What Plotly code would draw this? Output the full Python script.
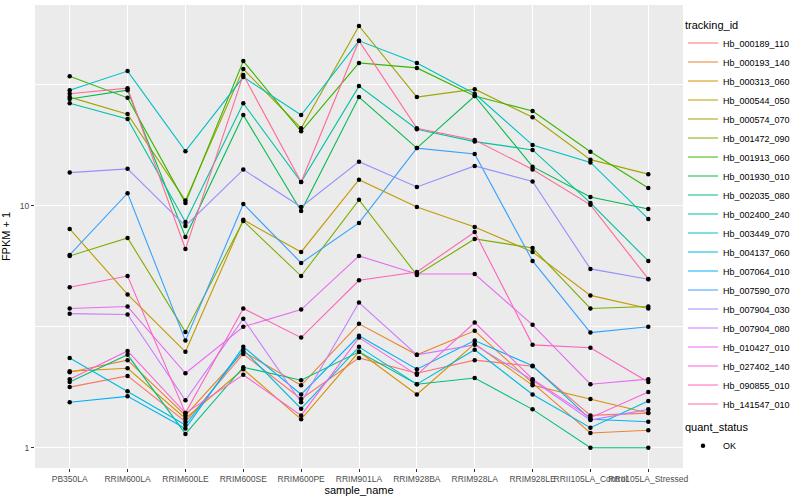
import plotly.graph_objects as go

samples = ["PB350LA", "RRIM600LA", "RRIM600LE", "RRIM600SE", "RRIM600PE", "RRIM901LA",
           "RRIM928BA", "RRIM928LA", "RRIM928LE", "RRII105LA_Control", "RRII105LA_Stressed"]

tracking_ids = ["Hb_000189_110", "Hb_000193_140", "Hb_000313_060", "Hb_000544_050", "Hb_000574_070",
                "Hb_001472_090", "Hb_001913_060", "Hb_001930_010", "Hb_002035_080", "Hb_002400_240",
                "Hb_003449_070", "Hb_004137_060", "Hb_007064_010", "Hb_007590_070", "Hb_007904_030",
                "Hb_007904_080", "Hb_010427_010", "Hb_027402_140", "Hb_090855_010", "Hb_141547_010"]

colors = ["#F8766D", "#EA8331", "#D89000", "#C09B00", "#A3A500", "#7CAE00", "#39B600", "#00BB4E",
          "#00BF7D", "#00C1A3", "#00BFC4", "#00BAE0", "#00B0F6", "#35A2FF", "#9590FF", "#C77CFF",
          "#E76BF3", "#FA62DB", "#FF62BC", "#FF6A98"]

# FPKM + 1 values, one list per tracking_id (order of samples)
hb_000189_110 = [1.78, 1.98, 1.28, 2.44, 1.59, 2.35, 2.03, 2.30, 2.17, 1.36, 1.39]
hb_000193_140 = [2.05, 2.30, 1.36, 2.49, 1.81, 3.25, 2.42, 3.04, 1.85, 1.15, 1.18]
hb_000313_060 = [2.07, 2.13, 1.32, 2.11, 1.31, 2.49, 1.66, 2.69, 1.81, 1.59, 1.39]
hb_000544_050 = [8.02, 4.30, 2.49, 8.74, 6.44, 12.8, 9.88, 8.17, 6.44, 4.26, 3.76]
hb_000574_070 = [28.1, 23.9, 10.5, 36.7, 20.9, 55.3, 28.1, 30.3, 23.2, 15.5, 13.5]
hb_001472_090 = [6.20, 7.36, 3.01, 8.65, 5.12, 10.57, 5.17, 7.29, 6.69, 3.76, 3.83]
hb_001913_060 = [34.3, 27.9, 10.27, 39.6, 20.3, 38.9, 37.1, 28.4, 24.6, 16.7, 11.84]
hb_001930_010 = [27.6, 30.0, 7.43, 23.7, 9.51, 28.1, 17.3, 28.4, 14.5, 10.87, 9.69]
hb_002035_080 = [1.87, 2.42, 1.14, 2.15, 1.90, 2.49, 1.83, 1.94, 1.44, 1.0, 1.0]
hb_002400_240 = [26.5, 22.8, 8.57, 26.5, 12.53, 31.2, 20.7, 18.4, 17.0, 10.27, 5.91]
hb_003449_070 = [30.0, 36.0, 16.8, 34.0, 23.7, 48.0, 38.9, 29.0, 17.8, 15.1, 8.82]
hb_004137_060 = [2.35, 1.71, 1.24, 2.54, 1.45, 2.61, 1.83, 2.54, 1.66, 1.21, 1.56]
hb_007064_010 = [1.54, 1.63, 1.20, 2.61, 1.66, 2.90, 2.11, 2.77, 2.18, 1.31, 1.28]
hb_007590_070 = [6.26, 11.26, 2.77, 10.17, 5.80, 8.49, 17.3, 16.35, 5.91, 2.99, 3.16]
hb_007904_030 = [13.7, 14.2, 8.25, 14.1, 9.88, 15.2, 11.95, 14.6, 12.6, 5.48, 4.97]
hb_007904_080 = [3.58, 3.55, 1.57, 3.41, 1.54, 3.98, 2.42, 2.66, 1.90, 1.30, 1.44]
hb_010427_010 = [3.76, 3.83, 2.03, 3.16, 3.72, 6.20, 5.22, 5.22, 3.22, 1.83, 1.92]
hb_027402_140 = [1.92, 2.51, 1.39, 2.00, 1.36, 2.85, 2.00, 3.29, 1.92, 1.33, 1.70]
hb_090855_010 = [4.60, 5.12, 1.39, 3.76, 2.85, 4.92, 5.32, 7.79, 2.66, 2.59, 1.87]
hb_141547_010 = [29.0, 30.6, 6.62, 34.7, 12.53, 48.0, 20.9, 18.7, 14.1, 10.08, 4.98]

series = [hb_000189_110, hb_000193_140, hb_000313_060, hb_000544_050, hb_000574_070,
          hb_001472_090, hb_001913_060, hb_001930_010, hb_002035_080, hb_002400_240,
          hb_003449_070, hb_004137_060, hb_007064_010, hb_007590_070, hb_007904_030,
          hb_007904_080, hb_010427_010, hb_027402_140, hb_090855_010, hb_141547_010]

FONT = "Liberation Sans, Arial, sans-serif"

fig = go.Figure()
for name, col, vals in zip(tracking_ids, colors, series):
    fig.add_trace(go.Scatter(
        x=samples, y=vals, mode="lines", name=name,
        line=dict(color=col, width=1.1), legend="legend"))

# points (quant_status = OK) drawn on top of all lines
all_x = [s for vals in series for s in samples]
all_y = [v for vals in series for v in vals]
fig.add_trace(go.Scatter(
    x=all_x, y=all_y, mode="markers", name="OK",
    marker=dict(color="black", size=4.5, symbol="circle"),
    legend="legend2"))

fig.update_layout(
    width=800, height=500,
    margin=dict(l=35, r=117, t=5, b=32, autoexpand=False),
    paper_bgcolor="white", plot_bgcolor="#EBEBEB",
    font=dict(family=FONT, color="black"),
    showlegend=True,
    legend=dict(
        title=dict(text="tracking_id", font=dict(size=11, color="black")),
        font=dict(size=9, color="black"),
        x=1.0, xanchor="left", y=0.98, yanchor="top",
        bgcolor="rgba(0,0,0,0)", itemwidth=30, tracegroupgap=0,
        traceorder="normal"),
    legend2=dict(
        title=dict(text="quant_status", font=dict(size=11, color="black")),
        font=dict(size=9, color="black"),
        x=1.0, xanchor="left", y=0.11, yanchor="top",
        bgcolor="rgba(0,0,0,0)", itemwidth=30),
)

fig.update_xaxes(
    type="category", categoryorder="array", categoryarray=samples,
    range=[-0.6, len(samples) - 0.4],
    showgrid=True, gridcolor="white", gridwidth=1.1,
    zeroline=False, showline=False,
    ticks="outside", ticklen=3, tickcolor="#333333", tickwidth=1,
    tickangle=0, tickfont=dict(size=8.5, color="#4D4D4D"),
    title=dict(text="sample_name", font=dict(size=11, color="black"), standoff=2),
)

fig.update_yaxes(
    type="log", range=[-0.0839, 1.8293],
    tickmode="array", tickvals=[1, 10], ticktext=["1", "10"],
    showgrid=True, gridcolor="white", gridwidth=1.1,
    minor=dict(tickmode="array", tickvals=[3.1623, 31.623], showgrid=True,
               gridcolor="white", gridwidth=0.55, ticks=""),
    zeroline=False, showline=False,
    ticks="outside", ticklen=3, tickcolor="#333333", tickwidth=1,
    tickfont=dict(size=8.5, color="#4D4D4D"),
    title=dict(text="FPKM + 1", font=dict(size=11, color="black"), standoff=6),
)

fig.write_html("out.html", config={"displayModeBar": False},
               post_script="document.body.style.margin='0';document.body.style.padding='0';")
